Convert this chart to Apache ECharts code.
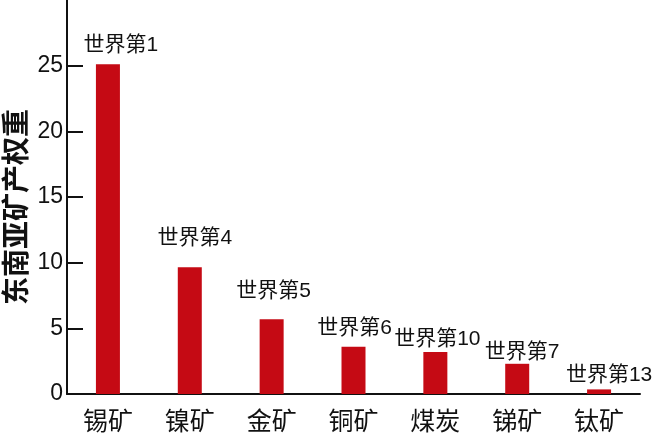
<!DOCTYPE html>
<html>
<head>
<meta charset="utf-8">
<script src="https://cdn.jsdelivr.net/npm/echarts@6/dist/echarts.min.js"></script>
<style>
html, body { margin: 0; padding: 0; background: #fff; }
#main { width: 656px; height: 437px; }
</style>
</head>
<body>
<div id="main"></div>
<script>
// Données
var categories = ['锡矿', '镍矿', '金矿', '铜矿', '煤炭', '锑矿', '钛矿'];
var values = [25.1, 9.65, 5.7, 3.6, 3.2, 2.3, 0.35];
var rankLabels = ['世界第1', '世界第4', '世界第5', '世界第6', '世界第10', '世界第7', '世界第13'];
var yTicks = [0, 5, 10, 15, 20, 25];

// petits décalages des étiquettes [dx, dy]
var labelNudge = [[13, -9], [5, -19], [2, -17], [1, -8], [2, -2], [5, -1], [10, -4]];

var font = '"Liberation Sans", "Noto Sans CJK SC", sans-serif';

var barData = [];
for (var i = 0; i < values.length; i++) {
	barData.push({
		value: values[i],
		label: { offset: labelNudge[i] }
	});
}

var chart = echarts.init(document.getElementById('main'));

chart.setOption({
	animation: false,
	grid: { left: 67, right: 16, top: 0, bottom: 43, outerBoundsMode: 'none', containLabel: false },
	xAxis: {
		type: 'category',
		data: categories,
		axisLine: { lineStyle: { color: '#111', width: 2 } },
		axisTick: { show: false },
		axisLabel: { color: '#111', fontSize: 25, margin: 17, fontFamily: font }
	},
	yAxis: {
		type: 'value',
		min: 0,
		max: 30,
		interval: 5,
		name: '东南亚矿产权重',
		nameLocation: 'middle',
		nameGap: 35,
		nameMoveOverlap: false,
		nameTextStyle: { color: '#111', fontSize: 28, fontWeight: 'bold', fontFamily: font, padding: [0, 20, 0, 0] },
		splitLine: { show: false },
		axisLine: { show: true, lineStyle: { color: '#111', width: 2 } },
		axisTick: { show: true, inside: true, length: 16, customValues: yTicks, lineStyle: { color: '#111', width: 2 } },
		axisLabel: { color: '#111', fontSize: 23, margin: 4, fontFamily: font, customValues: yTicks }
	},
	series: [{
		type: 'bar',
		data: barData,
		barWidth: 24,
		itemStyle: { color: '#c50a14' },
		label: {
			show: true,
			position: 'top',
			distance: 0,
			color: '#111',
			fontSize: 21,
			fontFamily: font,
			formatter: function (p) { return rankLabels[p.dataIndex]; }
		}
	}]
});
</script>
</body>
</html>
